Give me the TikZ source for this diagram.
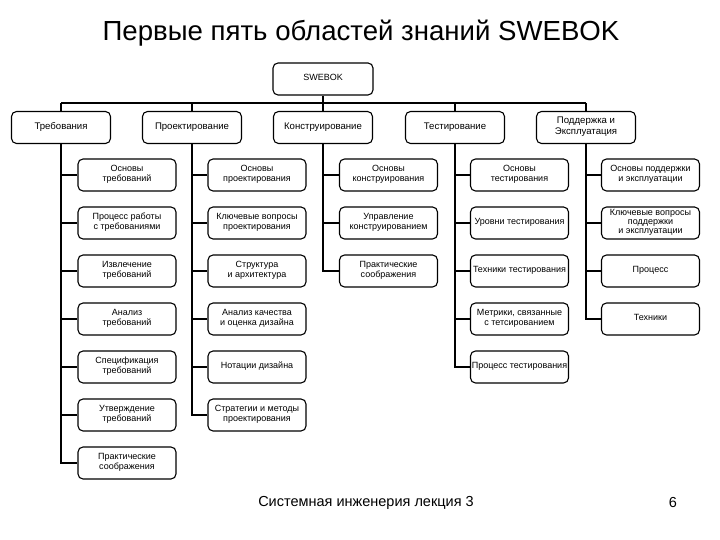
\documentclass[tikz,border=0pt]{standalone}
\usepackage{fontspec}
\setmainfont{Liberation Sans}
\begin{document}
\begin{tikzpicture}[x=1pt,y=1pt,
  box/.style={draw, line width=1.1pt, rounded corners=5pt, minimum width=98pt, minimum height=32pt, inner sep=1pt, align=center, font=\fontsize{9}{10}\selectfont, execute at begin node=\strut, execute at end node=\strut},
  topbox/.style={box, minimum width=99pt, font=\fontsize{9.6}{10.6}\selectfont},
  conn/.style={line width=1.1pt}]
\useasboundingbox (0,0) rectangle (720,540);
\fill[white] (0,0) rectangle (720,540);
\node[font=\fontsize{27.6}{30}\selectfont] (title) at (361,507) {Первые пять областей знаний SWEBOK};
% root
\node[box, minimum width=100pt] (sw) at (323,461) {SWEBOK};
\coordinate (bus) at (323,437);
% level 1
\node[topbox] (p1) at (61,412.5) {Требования};
\node[topbox] (p2) at (192,412.5) {Проектирование};
\node[topbox] (p3) at (323,412.5) {Конструирование};
\node[topbox] (p4) at (455,412.5) {Тестирование};
\node[topbox] (p5) at (586,412.5) {Поддержка и\\Эксплуатация};
% column 1
\node[box] (a1) at (127,365) {Основы\\требований};
\node[box] (a2) at (127,317) {Процесс работы\\с требованиями};
\node[box] (a3) at (127,269) {Извлечение\\требований};
\node[box] (a4) at (127,221) {Анализ\\требований};
\node[box] (a5) at (127,173) {Спецификация\\требований};
\node[box] (a6) at (127,125) {Утверждение\\требований};
\node[box] (a7) at (127,77) {Практические\\соображения};
% column 2
\node[box] (b1) at (257,365) {Основы\\проектирования};
\node[box] (b2) at (257,317) {Ключевые вопросы\\проектирования};
\node[box] (b3) at (257,269) {Структура\\и архитектура};
\node[box] (b4) at (257,221) {Анализ качества\\и оценка дизайна};
\node[box] (b5) at (257,173) {Нотации дизайна};
\node[box] (b6) at (257,125) {Стратегии и методы\\проектирования};
% column 3
\node[box] (c1) at (388.5,365) {Основы\\конструирования};
\node[box] (c2) at (388.5,317) {Управление\\конструированием};
\node[box] (c3) at (388.5,269) {Практические\\соображения};
% column 4
\node[box] (d1) at (519.5,365) {Основы\\тестирования};
\node[box] (d2) at (519.5,317) {Уровни тестирования};
\node[box] (d3) at (519.5,269) {Техники тестирования};
\node[box] (d4) at (519.5,221) {Метрики, связанные\\с тетсированием};
\node[box] (d5) at (519.5,173) {Процесс тестирования};
% column 5
\node[box] (e1) at (650.5,365) {Основы поддержки\\и эксплуатации};
\node[box, font=\fontsize{9}{9}\selectfont] (e2) at (650.5,317) {Ключевые вопросы\\поддержки\\и эксплуатации};
\node[box] (e3) at (650.5,269) {Процесс};
\node[box] (e4) at (650.5,221) {Техники};
% bus connectors
\draw[conn] (sw.south) -- (bus);
\draw[conn] (p1.north |- bus) -- (p5.north |- bus);
\foreach \p in {p1,p2,p3,p4,p5} \draw[conn] (\p.north |- bus) -- (\p.north);
% child connectors
\foreach \c in {a1,a2,a3,a4,a5,a6,a7} \draw[conn] (p1.south) |- (\c.west);
\foreach \c in {b1,b2,b3,b4,b5,b6} \draw[conn] (p2.south) |- (\c.west);
\foreach \c in {c1,c2,c3} \draw[conn] (p3.south) |- (\c.west);
\foreach \c in {d1,d2,d3,d4,d5} \draw[conn] (p4.south) |- (\c.west);
\foreach \c in {e1,e2,e3,e4} \draw[conn] (p5.south) |- (\c.west);
% footer
\node[font=\fontsize{14.5}{16}\selectfont] (foot) at (366,37) {Системная инженерия лекция 3};
\node[font=\fontsize{14.5}{16}\selectfont] (page) at (673,37) {6};
\end{tikzpicture}
\end{document}
